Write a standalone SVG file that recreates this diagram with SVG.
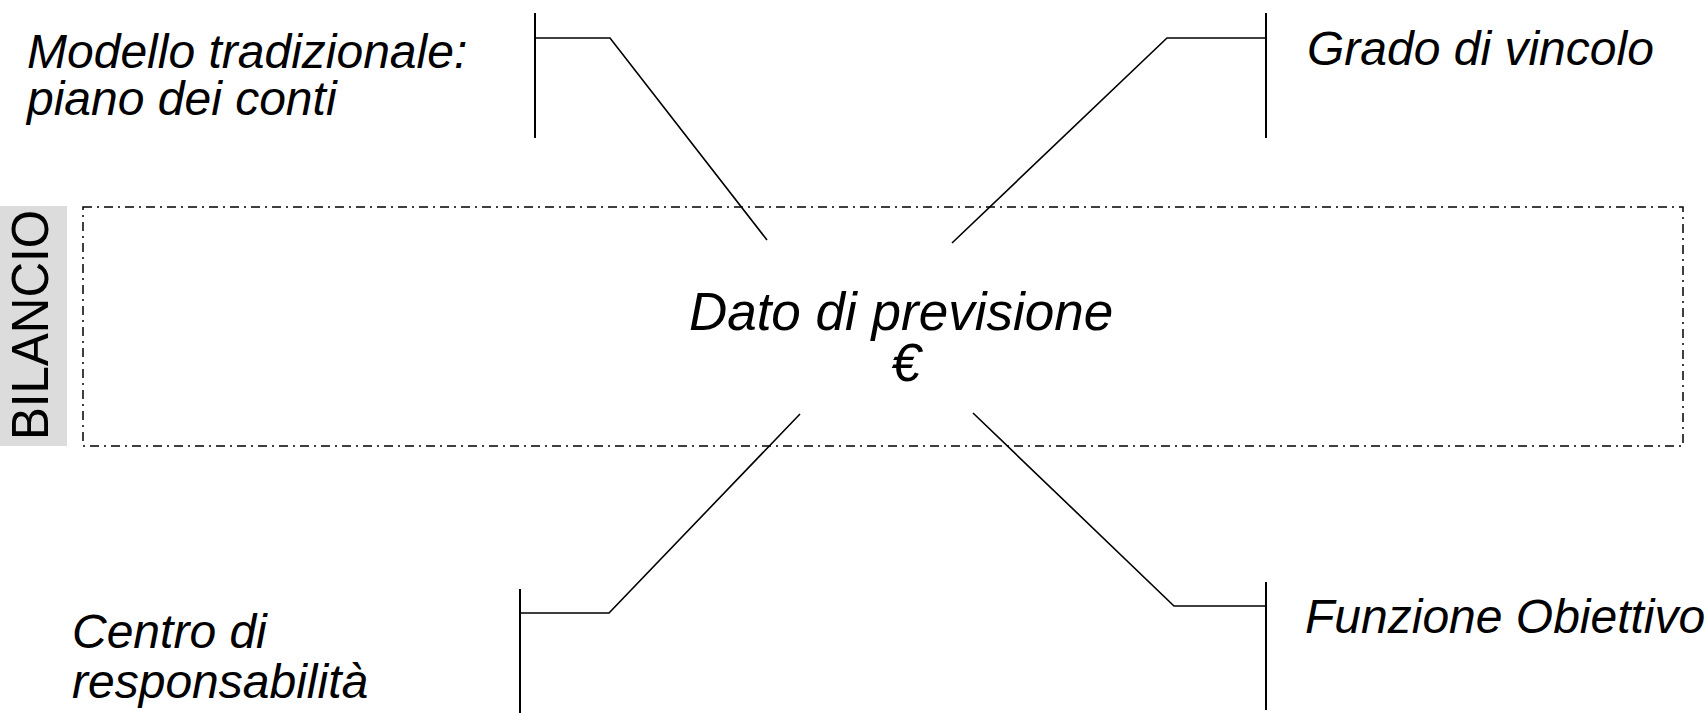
<svg xmlns="http://www.w3.org/2000/svg" width="1708" height="713" viewBox="0 0 1708 713">
<style>
.lbl{font-family:"Liberation Sans",Arial,sans-serif;font-style:italic;font-size:48px;fill:#000}
.ctr{font-family:"Liberation Sans",Arial,sans-serif;font-style:italic;font-size:53px;fill:#000}
.side{font-family:"Liberation Sans",Arial,sans-serif;font-size:52px;fill:#000}
.bar{stroke:#000;stroke-width:2;fill:none}
.leg{stroke:#000;stroke-width:1.6;fill:none;stroke-linejoin:miter}
</style>
<rect width="1708" height="713" fill="#fff"/>
<g id="bilancio">
<rect x="0" y="206" width="67" height="240" fill="#dcdcdc"/>
<text class="side" transform="translate(48,440) rotate(-90)" textLength="230" lengthAdjust="spacingAndGlyphs">BILANCIO</text>
</g>
<g id="dato">
<rect x="83" y="207" width="1600" height="239" fill="none" stroke="#000" stroke-width="1.5" stroke-dasharray="9 5 2 5"/>
<text class="ctr" x="901" y="330" text-anchor="middle">Dato di previsione</text>
<text class="ctr" x="906" y="381" text-anchor="middle">€</text>
</g>
<g id="modello">
<text class="lbl" x="27" y="68">Modello tradizionale:</text>
<text class="lbl" x="27" y="115">piano dei conti</text>
</g>
<g id="grado">
<text class="lbl" x="1307" y="65">Grado di vincolo</text>
</g>
<g id="centro">
<text class="lbl" x="72" y="648">Centro di</text>
<text class="lbl" x="72" y="698">responsabilità</text>
</g>
<g id="funzione">
<text class="lbl" x="1305" y="633">Funzione Obiettivo</text>
</g>
<g id="connectors">
<line class="bar" x1="535" y1="13" x2="535" y2="138"/>
<polyline class="leg" points="535,38 610,38 767,240"/>
<line class="bar" x1="1266" y1="13" x2="1266" y2="138"/>
<polyline class="leg" points="1266,38 1167,38 952,243"/>
<line class="bar" x1="520" y1="589" x2="520" y2="713"/>
<polyline class="leg" points="520,613 609,613 800,414"/>
<line class="bar" x1="1266" y1="582" x2="1266" y2="710"/>
<polyline class="leg" points="1266,606 1174,606 973,413"/>
</g>
</svg>
